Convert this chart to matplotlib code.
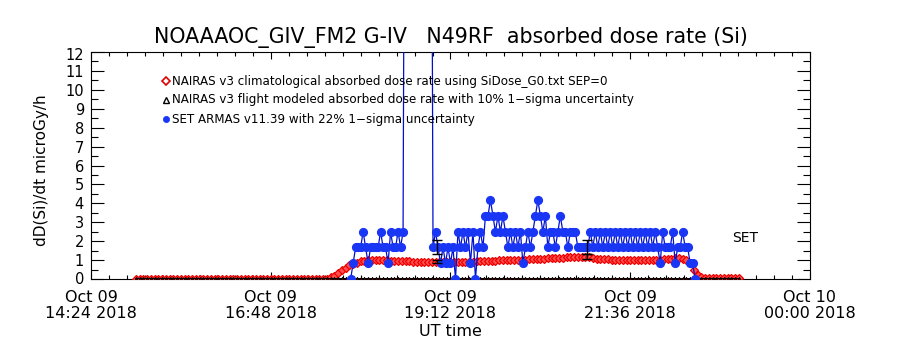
import numpy as np
import matplotlib
matplotlib.use("Agg")
import matplotlib.pyplot as plt
from matplotlib.transforms import ScaledTranslation

# ---------------- data ----------------
title = "NOAAAOC_GIV_FM2 G-IV   N49RF  absorbed dose rate (Si)"
ylabel = "dD(Si)/dt microGy/h"
xlabel = "UT time"
legend_labels = [
    "NAIRAS v3 climatological absorbed dose rate using SiDose_G0.txt SEP=0",
    "NAIRAS v3 flight modeled absorbed dose rate with 10% 1\u2212sigma uncertainty",
    "SET ARMAS v11.39 with 22% 1\u2212sigma uncertainty",
]
xtick_hours = [14.4, 16.8, 19.2, 21.6, 24.0]
xtick_labels = ["Oct 09\n14:24 2018", "Oct 09\n16:48 2018", "Oct 09\n19:12 2018",
                "Oct 09\n21:36 2018", "Oct 10\n00:00 2018"]
ytick_values = list(range(0, 13))

# NAIRAS climatological (red), 3-minute cadence starting 15:00 UT
red_start_min = 900
red_step_min = 3
red_vals = ([0.02] * 52 +
            [0.08, 0.15, 0.30, 0.45, 0.60, 0.72, 0.80, 0.87, 0.93, 0.97,
             1.00, 1.00, 1.00, 0.99, 0.99, 0.98, 0.97, 0.96, 0.95, 0.94,
             0.93, 0.93, 0.92, 0.92, 0.92, 0.91, 0.91, 0.91, 0.91, 0.91,
             0.90, 0.90, 0.90, 0.90, 0.91, 0.91, 0.91, 0.92, 0.92, 0.93,
             0.93, 0.94, 0.95, 0.96, 0.97, 0.98, 0.98, 0.99, 1.00, 1.00,
             1.01, 1.02, 1.03, 1.04, 1.05, 1.06, 1.07, 1.08, 1.09, 1.10,
             1.11, 1.12, 1.13, 1.14, 1.15, 1.16, 1.17, 1.18, 1.18, 1.16,
             1.12, 1.08, 1.05, 1.04, 1.04, 1.03, 1.03, 1.03, 1.02, 1.02,
             1.02, 1.02, 1.02, 1.02, 1.02, 1.03, 1.03, 1.03, 1.03, 1.04,
             1.05, 1.07, 1.09, 1.10, 1.08, 1.00, 0.85, 0.50, 0.20, 0.08] +
            [0.03] * 10)

# NAIRAS flight modeled (black), same times, reads as zero
black_vals = [0.0] * 162

# SET ARMAS (blue), 2-minute cadence starting 17:52 UT
blue_start_min = 1072
blue_step_min = 2
blue_vals = [0.0, 0.83, 1.67, 1.67, 1.67, 2.5, 1.67, 0.83, 1.67, 1.67,
             1.67, 1.67, 2.5, 1.67, 1.67, 0.83, 2.5, 1.67, 1.67, 2.5,
             1.67, 2.5,
             40, 40, 40, 40, 40, 40, 40, 40, 40, 40, 40,
             1.67, 2.5, 1.67, 0.83, 1.67, 0.83, 1.67, 0.83, 1.67, 0.0,
             2.5, 1.67, 2.5, 1.67, 2.5, 0.83, 2.5, 0.0, 1.67, 2.5,
             1.67, 3.33, 3.33, 4.17, 3.33, 2.5, 3.33, 2.5, 3.33, 2.5,
             1.67, 2.5, 1.67, 2.5, 1.67, 2.5, 0.83, 1.67, 2.5, 1.67,
             2.5, 3.33, 4.17, 3.33, 2.5, 3.33, 1.67, 2.5, 2.5, 1.67,
             2.5, 3.33, 2.5, 2.5, 1.67, 2.5, 2.5, 2.5, 1.67, 1.67,
             1.67, 1.67, 1.67,
             2.5, 1.67, 2.5, 1.67, 2.5, 1.67, 2.5, 1.67, 2.5, 1.67,
             2.5, 1.67, 2.5, 1.67, 2.5, 1.67, 2.5, 1.67, 2.5, 1.67,
             2.5, 1.67, 2.5, 1.67, 2.5, 1.67, 2.5,
             1.67, 0.83, 2.5, 1.67, 1.67, 1.67, 2.5, 0.83, 1.67, 1.67,
             2.5, 1.67, 1.67, 0.83, 0.83, 0.0]

# error bars (time in minutes, value, half-width)
err_times_min = [1141, 1141, 1261, 1261]
err_vals = [1.67, 0.93, 1.67, 1.18]
err_half = [0.37, 0.09, 0.37, 0.12]

# ---------------- figure ----------------
W, H = 900, 350
fig = plt.figure(figsize=(W / 100, H / 100), dpi=100)
fig.patch.set_facecolor("white")
ax = fig.add_axes([91 / W, 1 - 279 / H, (810 - 91) / W, (279 - 52) / H])

red_t = (red_start_min + red_step_min * np.arange(len(red_vals))) / 60.0
black_t = (red_start_min + red_step_min * np.arange(len(black_vals))) / 60.0
blue_t = (blue_start_min + blue_step_min * np.arange(len(blue_vals))) / 60.0

ax.plot(red_t, red_vals, color="#ff0000", lw=1.0, marker="D", ms=4.0,
        mfc="#ff5050", mec="#ee0000", mew=0.9, zorder=3)
ax.plot(black_t, black_vals, color="black", lw=1.4, marker="^", ms=3.2,
        mfc="#600000", mec="black", mew=0.6, zorder=3.5)
ax.plot(blue_t, blue_vals, color="#0010d0", lw=0.9, marker="o", ms=5.6,
        mfc="#1a36f5", mec="#1a36f5", zorder=4)
ax.errorbar(np.array(err_times_min) / 60.0, err_vals, yerr=err_half, fmt="none",
            ecolor="black", elinewidth=1.0, capsize=3.5, capthick=1.0, zorder=5)

ax.set_xlim(14.4, 24.0)
ax.set_ylim(0, 12)

ax.set_xticks(xtick_hours)
ax.set_xticklabels(xtick_labels, fontsize=11.5, linespacing=1.1)
ax.set_xticks(np.arange(14.4, 24.001, 0.24), minor=True)
ax.set_yticks(ytick_values)
ax.set_yticklabels([str(v) for v in ytick_values], fontsize=10.5)
ax.set_yticks(np.arange(0.5, 12, 1.0), minor=True)

ax.tick_params(axis="x", which="major", direction="in", length=5, width=0.8,
               top=True, bottom=True, pad=8)
ax.tick_params(axis="x", which="minor", direction="in", length=3, width=0.8,
               top=True, bottom=True)
ax.tick_params(axis="y", which="major", direction="in", length=9.5, width=0.8,
               left=True, right=True, pad=5)
ax.tick_params(axis="y", which="minor", direction="in", length=5, width=0.8,
               left=True, right=True)
# end labels pulled slightly inside the axis range, as in the reference
ymaj = ax.yaxis.get_major_ticks()
lab0 = ymaj[0].label1
lab0.set_transform(lab0.get_transform() + ScaledTranslation(0, 1.5 / 100, fig.dpi_scale_trans))
lab12 = ymaj[-1].label1
lab12.set_transform(lab12.get_transform() + ScaledTranslation(0, -1.5 / 100, fig.dpi_scale_trans))

for s in ax.spines.values():
    s.set_linewidth(0.8)

# texts
fig.text(451 / W, 1 - 38 / H, title, ha="center", va="center", fontsize=14.8)
fig.text(42 / W, 1 - 170 / H, ylabel, ha="center", va="center", rotation=90,
         fontsize=11)
fig.text(450 / W, 1 - 332 / H, xlabel, ha="center", va="center", fontsize=11.5)
fig.text(745 / W, 1 - 238 / H, "SET", ha="center", va="center", fontsize=10)

# legend (manual)
leg_y = [81, 100, 119]
leg_style = [
    dict(marker="D", ms=4, mfc="white", mec="#e00000", mew=1.2),
    dict(marker="^", ms=4.5, mfc="white", mec="black", mew=1.0),
    dict(marker="o", ms=4.5, mfc="#1a36f5", mec="#1a36f5", mew=0.5),
]
for yy, lab, st in zip(leg_y, legend_labels, leg_style):
    fy = 1 - yy / H
    fig.lines.append(matplotlib.lines.Line2D([166 / W], [fy], transform=fig.transFigure,
                                             linestyle="none", **st))
    fig.text(172 / W, fy, lab, ha="left", va="center", fontsize=8.6)

fig.savefig("out.png", dpi=100, facecolor="white")
